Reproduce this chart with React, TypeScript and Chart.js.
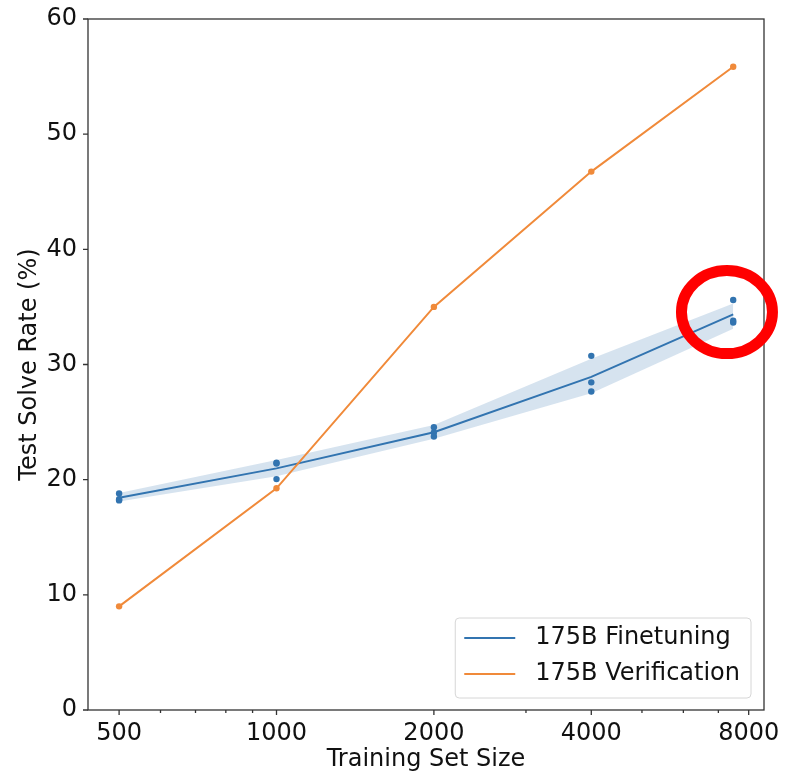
import { useEffect, useRef } from "react";
import { Chart, registerables } from "chart.js";

Chart.register(...registerables);

// ---- data ----
const trainingSizes = [500, 1000, 2000, 4000, 7473];
const finetuneRunA = [18.8, 21.47, 24.55, 30.75, 35.6];
const finetuneRunB = [18.2, 21.4, 24.1, 28.45, 33.65];
const finetuneRunC = [18.3, 20.05, 23.75, 27.65, 33.8];
const finetuneMean = [18.43, 20.98, 24.12, 28.93, 34.35];
const finetuneLower = [18.1, 20.3, 23.55, 27.5, 33.1];
const finetuneUpper = [18.85, 21.7, 24.75, 30.5, 35.3];
const verificationRate = [9.0, 19.25, 35.0, 46.75, 55.85];

const xMajorTicks = [500, 1000, 2000, 4000, 8000];
const xMinorTicks = [600, 700, 800, 900, 3000, 5000, 6000, 7000];
const yTickValues = [0, 10, 20, 30, 40, 50, 60];

const seriesLabels = ["175B Finetuning", "175B Verification"];
const xTitle = "Training Set Size";
const yTitle = "Test Solve Rate (%)";

// highlight annotation around the last finetuning point (data coords)
const highlightX = [7270];
const highlightY = [34.55];

const BLUE = "#3274b0";
const ORANGE = "#f08a3a";
const FONT = "'DejaVu Sans', sans-serif";

const toXY = (ys: number[]) => trainingSizes.map((x, i) => ({ x, y: ys[i] }));

export default function App() {
  const canvasRef = useRef<HTMLCanvasElement | null>(null);

  useEffect(() => {
    document.body.style.margin = "0";
    const canvas = canvasRef.current;
    if (!canvas) return;

    const runs = [finetuneRunA, finetuneRunB, finetuneRunC];
    const scatterPts = trainingSizes.flatMap((x, i) => runs.map((r) => ({ x, y: r[i] })));

    const overlay = {
      id: "overlay",
      afterDatasetsDraw(chart: any) {
        const { ctx, chartArea } = chart;
        const { left, right, top, bottom } = chartArea;
        const xs = chart.scales.x;
        const ys = chart.scales.y;
        ctx.save();
        ctx.strokeStyle = "#333";
        ctx.lineWidth = 1.3;
        ctx.strokeRect(left, top, right - left, bottom - top);
        ctx.beginPath();
        xMajorTicks.forEach((v) => {
          const px = xs.getPixelForValue(v);
          ctx.moveTo(px, bottom);
          ctx.lineTo(px, bottom + 5);
        });
        xMinorTicks.forEach((v) => {
          const px = xs.getPixelForValue(v);
          ctx.moveTo(px, bottom);
          ctx.lineTo(px, bottom + 3);
        });
        yTickValues.forEach((v) => {
          const py = ys.getPixelForValue(v);
          ctx.moveTo(left - 5, py);
          ctx.lineTo(left, py);
        });
        ctx.stroke();
        ctx.restore();
      },
      afterDraw(chart: any) {
        const { ctx, chartArea } = chart;
        const xs = chart.scales.x;
        const ys = chart.scales.y;
        ctx.save();
        // legend
        ctx.font = `24px ${FONT}`;
        const textW = Math.max(...seriesLabels.map((t) => ctx.measureText(t).width));
        const boxR = chartArea.right - 13;
        const boxB = chartArea.bottom - 12;
        const boxW = 9 + 51 + 20 + textW + 11;
        const boxH = 80;
        const boxL = boxR - boxW;
        const boxT = boxB - boxH;
        ctx.beginPath();
        ctx.roundRect(boxL, boxT, boxW, boxH, 4);
        ctx.fillStyle = "rgba(255,255,255,0.85)";
        ctx.fill();
        ctx.strokeStyle = "#d6d6d6";
        ctx.lineWidth = 1;
        ctx.stroke();
        const colors = [BLUE, ORANGE];
        seriesLabels.forEach((t, i) => {
          const cy = boxT + 20 + i * 36;
          ctx.strokeStyle = colors[i];
          ctx.lineWidth = 2;
          ctx.beginPath();
          ctx.moveTo(boxL + 9, cy);
          ctx.lineTo(boxL + 60, cy);
          ctx.stroke();
          ctx.fillStyle = "#111";
          ctx.textBaseline = "middle";
          ctx.textAlign = "left";
          ctx.fillText(t, boxL + 80, cy);
        });
        // red highlight ellipse
        const cx = xs.getPixelForValue(highlightX[0]);
        const cy = ys.getPixelForValue(highlightY[0]);
        ctx.strokeStyle = "#ff0000";
        ctx.lineWidth = 11;
        ctx.beginPath();
        ctx.ellipse(cx, cy, 45.5, 41.5, 0, 0, Math.PI * 2);
        ctx.stroke();
        ctx.restore();
      },
    };

    const tickFont = { family: FONT, size: 24, lineHeight: 1.2 };
    const titleFont = { family: FONT, size: 24, lineHeight: 1.2 };

    const chart = new Chart(canvas, {
      type: "line",
      data: {
        datasets: [
          {
            label: "lower",
            data: toXY(finetuneLower),
            borderWidth: 0,
            pointRadius: 0,
            fill: false,
            order: 10,
          } as any,
          {
            label: "upper",
            data: toXY(finetuneUpper),
            borderWidth: 0,
            pointRadius: 0,
            fill: "-1",
            backgroundColor: "rgba(50,116,176,0.2)",
            order: 9,
          } as any,
          {
            label: seriesLabels[0],
            data: toXY(finetuneMean),
            borderColor: BLUE,
            borderWidth: 2,
            pointRadius: 0,
            fill: false,
            order: 3,
          },
          {
            type: "scatter",
            label: "runs",
            data: scatterPts,
            backgroundColor: BLUE,
            borderWidth: 0,
            pointRadius: 3.2,
            order: 2,
          } as any,
          {
            label: seriesLabels[1],
            data: toXY(verificationRate),
            borderColor: ORANGE,
            backgroundColor: ORANGE,
            borderWidth: 2,
            pointRadius: 3.2,
            pointBorderWidth: 0,
            fill: false,
            order: 1,
          },
        ],
      },
      options: {
        animation: false,
        responsive: false,
        devicePixelRatio: 1,
        layout: { padding: { top: 19, right: 21, left: 0, bottom: 0 } },
        plugins: { legend: { display: false }, tooltip: { enabled: false } },
        scales: {
          x: {
            type: "logarithmic",
            min: 436,
            max: 8558,
            afterBuildTicks: (s: any) => {
              s.ticks = [...xMajorTicks, ...xMinorTicks]
                .sort((a, b) => a - b)
                .map((v) => ({ value: v }));
            },
            afterFit: (s: any) => {
              s.height = 64;
              s.paddingLeft = 0;
              s.paddingRight = 0;
              s.paddingTop = 0;
              s.paddingBottom = 0;
            },
            ticks: {
              autoSkip: false,
              maxRotation: 0,
              minRotation: 0,
              padding: 9,
              color: "#111",
              font: tickFont,
              callback: (v: any) => (xMajorTicks.includes(Number(v)) ? String(v) : ""),
            },
            grid: { display: false, drawTicks: false },
            border: { display: false },
            title: {
              display: true,
              text: xTitle,
              color: "#111",
              font: titleFont,
              padding: { top: 0, bottom: 0 },
            },
          },
          y: {
            type: "linear",
            min: 0,
            max: 60,
            afterFit: (s: any) => {
              s.width = 88;
              s.paddingLeft = 0;
              s.paddingRight = 0;
              s.paddingTop = 0;
              s.paddingBottom = 0;
            },
            ticks: { stepSize: 10, padding: 11, color: "#111", font: tickFont },
            grid: { display: false, drawTicks: false },
            border: { display: false },
            title: {
              display: true,
              text: yTitle,
              color: "#111",
              font: titleFont,
              padding: { top: 15, bottom: 0 },
            },
          },
        },
      },
      plugins: [overlay],
    });

    return () => chart.destroy();
  }, []);

  return <canvas ref={canvasRef} width={785} height={774} style={{ display: "block" }} />;
}
